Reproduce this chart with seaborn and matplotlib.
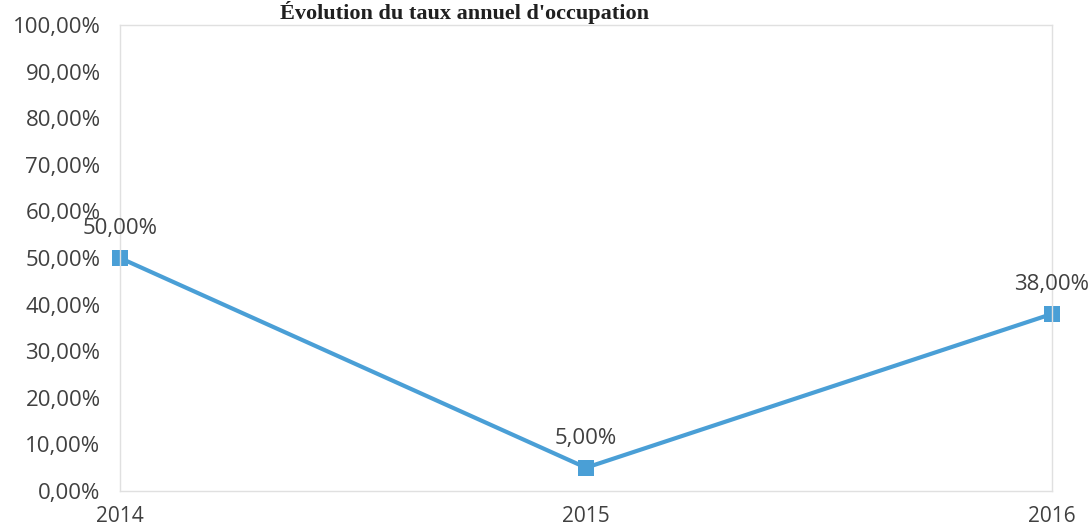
import numpy as np
import pandas as pd
import matplotlib
matplotlib.use("Agg")
import matplotlib.pyplot as plt
import seaborn as sns

# données
annees = [2014, 2015, 2016]
taux = [50.0, 5.0, 38.0]
etiquettes = ["50,00%", "5,00%", "38,00%"]
graduations_y = list(range(0, 101, 10))
titre = "Évolution du taux annuel d'occupation"

sns.set_style("white")
plt.rcParams['font.family'] = ['Open Sans', 'DejaVu Sans']

df = pd.DataFrame({"annee": annees, "taux": taux})

fig = plt.figure(figsize=(10.91, 5.32), dpi=100)
ax = fig.add_axes([120 / 1091, 1 - 491 / 532, (1052 - 120) / 1091, (491 - 25) / 532])

bleu = "#4a9fd6"
sns.lineplot(data=df, x="annee", y="taux", ax=ax, color=bleu, linewidth=3,
             marker="s", markersize=11.5, markeredgewidth=0, markerfacecolor=bleu)
for ln in ax.lines:
    ln.set_clip_on(False)

# étiquettes de données
for x, y, txt in zip(annees, taux, etiquettes):
    ax.annotate(txt, (x, y), xytext=(0, 21), textcoords="offset points",
                ha="center", va="center", fontsize=16, color="#404040")

ax.set_xlim(annees[0], annees[-1])
ax.set_ylim(0, 100)
ax.set_xticks(annees)
ax.set_xticklabels([str(a) for a in annees], fontsize=15, color="#404040")
ax.set_yticks(graduations_y)
ax.set_yticklabels([f"{v},00%" for v in graduations_y], fontsize=16, color="#404040")
ax.tick_params(axis="y", length=0, pad=14)
ax.tick_params(axis="x", length=0, pad=11)
ax.set_xlabel("")
ax.set_ylabel("")
for s in ax.spines.values():
    s.set_color("#e0e0e0")
    s.set_linewidth(1)

fig.text(465 / 1091, 1 - 19 / 532, titre, ha="center", va="baseline",
         fontsize=16, fontweight="bold", family=["Liberation Serif", "DejaVu Serif"],
         color="#202020")

fig.savefig("out.png", dpi=100)
